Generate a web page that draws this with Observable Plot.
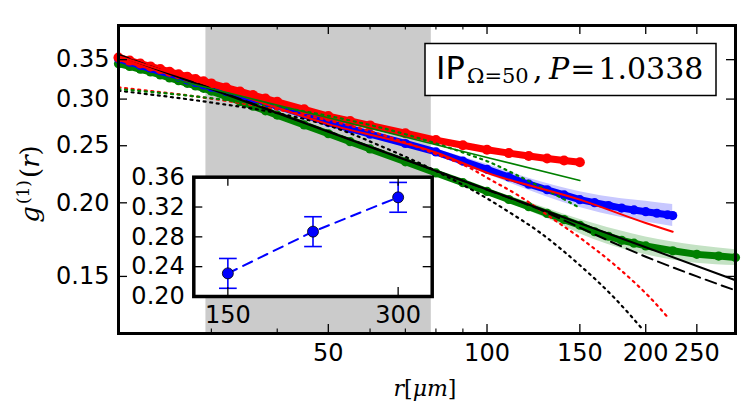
<!DOCTYPE html>
<html><head><meta charset="utf-8">
<script src="https://cdn.jsdelivr.net/npm/d3@7"></script>
<script src="https://cdn.jsdelivr.net/npm/@observablehq/plot@0.6"></script>
<style>
body{margin:0;background:#fff;}
#wrap{position:relative;width:748px;height:416px;overflow:hidden;}
#wrap svg{position:absolute;}
</style></head><body><div id="wrap"></div>
<script>
// ---- data ----
const shade = [29.3, 78.4];

const redR  = [20,21,22,23,24,25,26,27,28,29,30,32,34,36,38,40,45,50,55,60,70,80,90,100,110,120,130,140,150];
const redG  = [0.3530,0.3487,0.3447,0.3409,0.3373,0.3339,0.3306,0.3275,0.3246,0.3217,0.3190,0.3139,0.3091,0.3047,0.3006,0.2968,0.2882,0.2807,0.2754,0.2707,0.2625,0.2556,0.2505,0.2461,0.2429,0.2402,0.2379,0.2360,0.2344];

const blueR = [20,21,22,23,24,25,26,27,28,29,30,32,34,36,38,40,45,50,55,60,70,80,90,100,110,120,130,140,150,160,170,180,190,200,210,220,225];
const blueG = [0.3512,0.3465,0.3421,0.3380,0.3340,0.3304,0.3268,0.3234,0.3202,0.3171,0.3142,0.3090,0.3042,0.2999,0.2958,0.2920,0.2822,0.2737,0.2673,0.2616,0.2522,0.2440,0.2354,0.2280,0.2213,0.2151,0.2105,0.2063,0.2025,0.2001,0.1979,0.1959,0.1945,0.1932,0.1920,0.1909,0.1903];

const greenR = [20,21,22,23,24,25,26,27,28,29,30,32,34,36,38,40,45,50,55,60,70,80,90,100,110,120,130,140,150,160,170,180,190,200,225,250,275,296];
const greenG = [0.3446,0.3409,0.3371,0.3336,0.3296,0.3259,0.3223,0.3191,0.3159,0.3129,0.3095,0.3030,0.2972,0.2917,0.2866,0.2818,0.2712,0.2620,0.2540,0.2469,0.2348,0.2248,0.2164,0.2091,0.2026,0.1970,0.1919,0.1873,0.1832,0.1786,0.1755,0.1727,0.1708,0.1690,0.1658,0.1635,0.1624,0.1615];

const blueBandR  = [20, 50, 80, 100, 120, 150, 180, 200, 225];
const blueBandLo = [0.3495, 0.2716, 0.2412, 0.2236, 0.2101, 0.1963, 0.1888, 0.1855, 0.1823];
const blueBandHi = [0.3530, 0.2758, 0.2469, 0.2325, 0.2202, 0.2089, 0.2033, 0.2013, 0.1986];

const greenBandR  = [20, 50, 100, 130, 160, 200, 250, 296];
const greenBandLo = [0.3433, 0.2600, 0.2067, 0.1882, 0.1731, 0.1632, 0.1579, 0.1565];
const greenBandHi = [0.3459, 0.2640, 0.2115, 0.1957, 0.1842, 0.1750, 0.1693, 0.1665];

const blackSolidR = [20, 50, 100, 200, 296];
const blackSolidG = [0.356, 0.264, 0.2107, 0.1681, 0.1478];
const blackDashR  = [20, 50, 100, 130, 150, 200, 250, 296];
const blackDashG  = [0.357, 0.2645, 0.2105, 0.1925, 0.1815, 0.162, 0.150, 0.1420];
const redThinR    = [20, 30, 50, 80, 100, 150, 200, 225];
const redThinG    = [0.3546, 0.3159, 0.2720, 0.2435, 0.2250, 0.2025, 0.1848, 0.1786];
const greenThinR  = [20, 50, 100, 150];
const greenThinG  = [0.342, 0.2788, 0.2388, 0.2182];

const redDotR   = [20, 30, 40, 50, 65, 80, 93, 101, 114, 132, 152, 176, 192, 202, 221];
const redDotG   = [0.314, 0.3005, 0.2880, 0.2760, 0.2590, 0.2420, 0.2290, 0.2195, 0.2065, 0.1890, 0.1730, 0.1560, 0.1455, 0.1392, 0.1274];
const greenDotR = [20, 30, 50, 70, 93, 101, 114, 132, 150];
const greenDotG = [0.312, 0.301, 0.281, 0.2615, 0.2410, 0.2345, 0.2228, 0.2085, 0.1961];
const blackDotR = [20, 30, 40, 50, 65, 80, 90, 100, 110, 125, 150, 175, 196];
const blackDotG = [0.310, 0.296, 0.284, 0.2705, 0.2465, 0.2265, 0.2145, 0.2035, 0.1930, 0.1790, 0.1567, 0.1375, 0.1228];

const insetR   = [150, 225, 300];
const insetG   = [0.231, 0.287, 0.333];
const insetErr = [0.020, 0.020, 0.020];

const xMajor = [50, 100, 150, 200, 250];
const xMinor = [30, 40, 60, 70, 80, 90];
const yTicks = [0.15, 0.20, 0.25, 0.30, 0.35];
const insetXTicks = [150, 300];
const insetYTicks = [0.20, 0.24, 0.28, 0.32, 0.36];

// ---- build ----
const rows = (r, g) => r.map((x, i) => ({r: x, g: g[i]}));
const bandRows = (r, lo, hi) => r.map((x, i) => ({r: x, lo: lo[i], hi: hi[i]}));

const W = 748, H = 416, mL = 118, mR = 13, mT = 25, mB = 83;
const fW = W - mL - mR, fH = H - mT - mB;
const RED = "#ff0000", BLUE = "#0000ff", GREEN = "#008000";

const thick = (r, g, c, rad) => [
  Plot.line(rows(r, g), {x: "r", y: "g", stroke: c, strokeWidth: 7, strokeLinecap: "round"}),
  Plot.dot(rows(r, g), {x: "r", y: "g", r: rad, fill: c, stroke: "none"})
];
const dotted = (r, g, c) => Plot.line(rows(r, g), {x: "r", y: "g", stroke: c, strokeWidth: 2.2, strokeDasharray: "2,4.6", curve: "monotone-x"});

const main = Plot.plot({
  width: W, height: H,
  marginLeft: mL, marginRight: mR, marginTop: mT, marginBottom: mB,
  style: {fontFamily: "DejaVu Sans", fontSize: "24px", background: "white", color: "black", overflow: "visible"},
  x: {type: "log", domain: [20, 296]},
  y: {type: "log", domain: [0.12, 0.40]},
  marks: [
    Plot.rect([shade], {x1: d => d[0], x2: d => d[1], fill: "#cbcbcb"}),
    Plot.areaY(bandRows(greenBandR, greenBandLo, greenBandHi), {x: "r", y1: "lo", y2: "hi", fill: "rgb(196,226,196)", curve: "monotone-x"}),
    Plot.areaY(bandRows(blueBandR, blueBandLo, blueBandHi), {x: "r", y1: "lo", y2: "hi", fill: "rgb(200,200,255)", curve: "monotone-x"}),
    ...thick(greenR, greenG, GREEN, 4.6),
    ...thick(blueR, blueG, BLUE, 4.6),
    ...thick(redR, redG, RED, 5),
    dotted(blackDotR, blackDotG, "black"),
    dotted(redDotR, redDotG, RED),
    dotted(greenDotR, greenDotG, GREEN),
    Plot.line(rows(blackDashR, blackDashG), {x: "r", y: "g", stroke: "black", strokeWidth: 2, strokeDasharray: "11,6", curve: "monotone-x"}),
    Plot.line(rows(blackSolidR, blackSolidG), {x: "r", y: "g", stroke: "black", strokeWidth: 2}),
    Plot.line(rows(redThinR, redThinG), {x: "r", y: "g", stroke: RED, strokeWidth: 2, curve: "monotone-x"}),
    Plot.line(rows(greenThinR, greenThinG), {x: "r", y: "g", stroke: GREEN, strokeWidth: 1.6}),
    // inward ticks
    Plot.ruleX(xMajor, {x: d => d, insetTop: fH - 9, stroke: "black", strokeWidth: 1.3}),
    Plot.ruleX(xMajor, {x: d => d, insetBottom: fH - 9, stroke: "black", strokeWidth: 1.3}),
    Plot.ruleX(xMinor, {x: d => d, insetTop: fH - 4.5, stroke: "black", strokeWidth: 1.1}),
    Plot.ruleX(xMinor, {x: d => d, insetBottom: fH - 4.5, stroke: "black", strokeWidth: 1.1}),
    Plot.ruleY(yTicks, {y: d => d, insetRight: fW - 9, stroke: "black", strokeWidth: 1.3}),
    Plot.ruleY(yTicks, {y: d => d, insetLeft: fW - 9, stroke: "black", strokeWidth: 1.3}),
    Plot.axisX({ticks: xMajor, tickSize: 0, tickPadding: 10, tickFormat: d => String(d), label: null, fontSize: 24}),
    Plot.axisY({ticks: yTicks, tickSize: 0, tickPadding: 9, tickFormat: d => d.toFixed(2), label: null, fontSize: 24}),
    Plot.frame({stroke: "black", strokeWidth: 3})
  ]
});
main.style.left = "0px"; main.style.top = "0px";
document.getElementById("wrap").append(main);

const svg = d3.select(main);
// y label g^(1)(r)
const yl = svg.append("text").attr("transform", "translate(39,184) rotate(-90)")
  .attr("text-anchor", "middle").style("font-family", "DejaVu Serif").style("font-size", "26px").attr("fill", "black");
yl.append("tspan").style("font-style", "italic").text("g");
yl.append("tspan").style("font-size", "17px").attr("dx", 2).attr("dy", -10).text("(1)");
yl.append("tspan").attr("dx", 2).attr("dy", 10).text("(");
yl.append("tspan").style("font-style", "italic").text("r");
yl.append("tspan").text(")");
// x label r[μm]
const xl = svg.append("text").attr("x", 425).attr("y", 396).attr("text-anchor", "middle")
  .style("font-family", "DejaVu Serif").style("font-size", "22px").attr("fill", "black");
xl.append("tspan").style("font-style", "italic").text("r");
xl.append("tspan").text("[");
xl.append("tspan").style("font-style", "italic").text("μm");
xl.append("tspan").text("]");
// annotation box
svg.append("rect").attr("x", 425).attr("y", 43.5).attr("width", 291).attr("height", 52)
  .attr("fill", "white").attr("stroke", "black").attr("stroke-width", 1.5);
svg.append("text").attr("x", 436).attr("y", 78.5).attr("text-anchor", "start")
  .style("font-family", "DejaVu Sans").style("font-size", "32px").attr("fill", "black").text("IP");
svg.append("text").attr("x", 467).attr("y", 83).attr("text-anchor", "start")
  .style("font-family", "DejaVu Serif").style("font-size", "21px").attr("fill", "black").text("Ω=50");
svg.append("text").attr("x", 533).attr("y", 78.5).attr("text-anchor", "start")
  .style("font-family", "DejaVu Serif").style("font-size", "30px").attr("fill", "black").text(",");
const ann = svg.append("text").attr("x", 549).attr("y", 78.5).attr("text-anchor", "start")
  .style("font-family", "DejaVu Serif").style("font-size", "30px").attr("fill", "black");
ann.append("tspan").style("font-style", "italic").text("P");
ann.append("tspan").attr("dx", 1).text("=");
ann.append("tspan").attr("dx", 3).text("1.0338");

// ---- inset ----
const iW = 340, iH = 170, iL = 93.3, iT = 16.7, iR = 8.3, iB = 34;
const ifW = iW - iL - iR, ifH = iH - iT - iB;
const insetRows = insetR.map((x, i) => ({r: x, g: insetG[i], lo: insetG[i] - insetErr[i], hi: insetG[i] + insetErr[i]}));
const capSymbol = {draw(ctx, size) { const w = Math.sqrt(size); ctx.moveTo(-w, 0); ctx.lineTo(w, 0); }};
const inset = Plot.plot({
  width: iW, height: iH, marginLeft: iL, marginTop: iT, marginRight: iR, marginBottom: iB,
  style: {fontFamily: "DejaVu Sans", fontSize: "24px", background: "transparent", color: "black", overflow: "visible"},
  x: {domain: [120, 330]},
  y: {domain: [0.20, 0.36]},
  marks: [
    Plot.frame({fill: "white", stroke: "none"}),
    Plot.line(insetRows, {x: "r", y: "g", stroke: BLUE, strokeWidth: 2, strokeDasharray: "10,7"}),
    Plot.ruleX(insetRows, {x: "r", y1: "lo", y2: "hi", stroke: BLUE, strokeWidth: 1.6}),
    Plot.dot(insetRows, {x: "r", y: "lo", symbol: capSymbol, r: 5, stroke: BLUE, strokeWidth: 1.6}),
    Plot.dot(insetRows, {x: "r", y: "hi", symbol: capSymbol, r: 5, stroke: BLUE, strokeWidth: 1.6}),
    Plot.dot(insetRows, {x: "r", y: "g", r: 5.5, fill: BLUE, stroke: "black", strokeWidth: 0.8}),
    Plot.ruleX(insetXTicks, {x: d => d, insetTop: ifH - 9, stroke: "black", strokeWidth: 1.3}),
    Plot.ruleX(insetXTicks, {x: d => d, insetBottom: ifH - 9, stroke: "black", strokeWidth: 1.3}),
    Plot.ruleY(insetYTicks, {y: d => d, insetRight: ifW - 9, stroke: "black", strokeWidth: 1.3}),
    Plot.ruleY(insetYTicks, {y: d => d, insetLeft: ifW - 9, stroke: "black", strokeWidth: 1.3}),
    Plot.axisX({ticks: insetXTicks, tickSize: 0, tickPadding: 9, tickFormat: d => String(d), label: null, fontSize: 24}),
    Plot.axisY({ticks: insetYTicks, tickSize: 0, tickPadding: 9, tickFormat: d => d.toFixed(2), label: null, fontSize: 24}),
    Plot.frame({stroke: "black", strokeWidth: 3.5})
  ]
});
inset.style.left = "100px"; inset.style.top = "160px";
document.getElementById("wrap").append(inset);
</script></body></html>
